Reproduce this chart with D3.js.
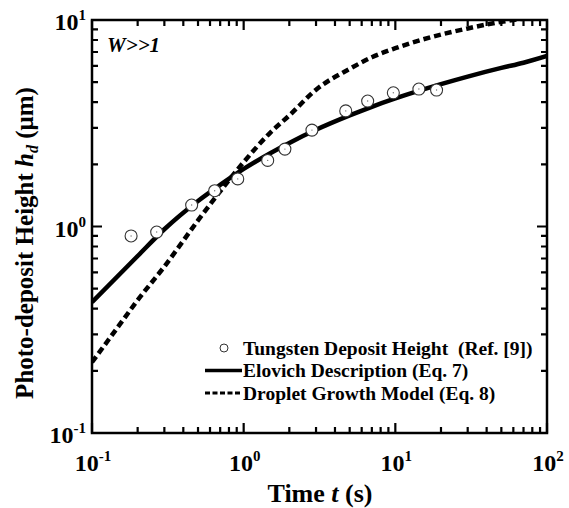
<!DOCTYPE html>
<html>
<head>
<meta charset="utf-8">
<script src="https://cdn.jsdelivr.net/npm/d3@7"></script>
<style>
  body { margin: 0; background: #fff; }
  svg { display: block; font-family: "Liberation Serif", "Times New Roman", serif; font-weight: bold; }
</style>
</head>
<body>
<div id="container"></div>
<script>
// measured tungsten deposit heights (t in s, h in um)
const dataT = [0.181, 0.267, 0.454, 0.644, 0.914, 1.44, 1.87, 2.82, 4.71, 6.57, 9.70, 14.3, 18.7];
const dataH = [0.90, 0.94, 1.27, 1.49, 1.70, 2.09, 2.37, 2.93, 3.63, 4.05, 4.44, 4.63, 4.58];

// Elovich description (Eq. 7)
const elovichT = [0.1, 0.2, 0.3, 0.5, 0.7, 1, 2, 3, 5, 7, 10, 20, 30, 50, 70, 100];
const elovichH = [0.43, 0.72, 0.97, 1.33, 1.59, 1.90, 2.54, 2.94, 3.45, 3.80, 4.17, 4.89, 5.32, 5.86, 6.21, 6.70];

// droplet growth model (Eq. 8)
const dropletT = [0.1, 0.15, 0.2, 0.3, 0.5, 0.7, 1, 1.5, 2, 3, 5, 7, 10, 20, 30, 50, 70, 100];
const dropletH = [0.22, 0.33, 0.44, 0.64, 1.07, 1.48, 2.05, 2.85, 3.45, 4.6, 5.8, 6.6, 7.3, 8.5, 9.1, 9.8, 10.15, 10.4];

const xMajor = [0.1, 1, 10, 100];
const xLabels = ['-1', '0', '1', '2'];
const yMajor = [0.1, 1, 10];
const yLabels = ['-1', '0', '1'];

const legendItems = [
    { kind: 'circle', label: 'Tungsten Deposit Height\u00a0 (Ref. [9])' },
    { kind: 'solid', label: 'Elovich Description (Eq. 7)' },
    { kind: 'dashed', label: 'Droplet Growth Model (Eq. 8)' }
];

const width = 569;
const height = 508;
const margin = { top: 20, right: 22, bottom: 75, left: 92 };

const svg = d3.select('#container').append('svg')
    .attr('width', width)
    .attr('height', height);

const x = d3.scaleLog().domain([0.1, 100]).range([margin.left, width - margin.right]);
const y = d3.scaleLog().domain([0.1, 10]).range([height - margin.bottom, margin.top]);

function minorTicks(decades) {
    const out = [];
    decades.forEach(d => {
        for (let m = 2; m <= 9; m++) out.push(d * m);
    });
    return out;
}
const xMinor = minorTicks([0.1, 1, 10]);
const yMinor = minorTicks([0.1, 1]);

const plotW = width - margin.left - margin.right;
const plotH = height - margin.top - margin.bottom;
const plotLeft = margin.left, plotRight = width - margin.right;
const plotBottom = height - margin.bottom, plotTop = margin.top;

svg.append('clipPath').attr('id', 'plot-clip')
    .append('rect')
    .attr('x', plotLeft).attr('y', plotTop)
    .attr('width', plotW)
    .attr('height', plotH);

// curves
const line = d3.line()
    .x(d => x(d[0]))
    .y(d => y(d[1]))
    .curve(d3.curveMonotoneX);

const plot = svg.append('g').attr('clip-path', 'url(#plot-clip)');

plot.append('path')
    .datum(dropletT.map((t, i) => [t, dropletH[i]]))
    .attr('d', line)
    .attr('fill', 'none')
    .attr('stroke', '#000')
    .attr('stroke-width', 4.5)
    .attr('stroke-dasharray', '7,4');

plot.append('path')
    .datum(elovichT.map((t, i) => [t, elovichH[i]]))
    .attr('d', line)
    .attr('fill', 'none')
    .attr('stroke', '#000')
    .attr('stroke-width', 4.5);

// data points
const pts = plot.selectAll('g.pt')
    .data(dataT.map((t, i) => [t, dataH[i]]))
    .join('g')
    .attr('class', 'pt')
    .attr('transform', d => `translate(${x(d[0])},${y(d[1])})`);
pts.append('circle')
    .attr('r', 6)
    .attr('fill', '#fff')
    .attr('stroke', '#333')
    .attr('stroke-width', 1.1);
pts.append('circle')
    .attr('r', 0.7)
    .attr('fill', '#777');

// ticks point inward on all four sides
const tickPath = d3.path();
function xTicks(values, len) {
    values.forEach(v => {
        tickPath.moveTo(x(v), plotBottom); tickPath.lineTo(x(v), plotBottom - len);
        tickPath.moveTo(x(v), plotTop); tickPath.lineTo(x(v), plotTop + len);
    });
}
function yTicks(values, len) {
    values.forEach(v => {
        tickPath.moveTo(plotLeft, y(v)); tickPath.lineTo(plotLeft + len, y(v));
        tickPath.moveTo(plotRight, y(v)); tickPath.lineTo(plotRight - len, y(v));
    });
}
xTicks(xMinor, 6);
xTicks(xMajor, 10);
yTicks(yMinor, 6);
yTicks(yMajor, 10);

svg.append('path')
    .attr('d', tickPath.toString())
    .attr('fill', 'none')
    .attr('stroke', '#000')
    .attr('stroke-width', 2.2);

svg.append('rect')
    .attr('x', plotLeft).attr('y', plotTop)
    .attr('width', plotW).attr('height', plotH)
    .attr('fill', 'none')
    .attr('stroke', '#000')
    .attr('stroke-width', 2.5);

// tick labels as 10 with superscript exponent
function powerLabel(sel, exp) {
    sel.append('tspan').attr('font-size', 24).text('10');
    sel.append('tspan').attr('font-size', 15).attr('dy', -10).text(exp);
}

xMajor.forEach((v, i) => {
    svg.append('text')
        .attr('x', x(v) + 1)
        .attr('y', 471)
        .attr('text-anchor', 'middle')
        .call(powerLabel, xLabels[i]);
});

yMajor.forEach((v, i) => {
    svg.append('text')
        .attr('x', plotLeft - 6)
        .attr('y', y(v) + 10)
        .attr('text-anchor', 'end')
        .call(powerLabel, yLabels[i]);
});

// axis titles
const xt = svg.append('text')
    .attr('x', 320)
    .attr('y', 502)
    .attr('text-anchor', 'middle')
    .attr('font-size', 26);
xt.append('tspan').text('Time ');
xt.append('tspan').attr('font-style', 'italic').text('t');
xt.append('tspan').text(' (s)');

const yt = svg.append('text')
    .attr('transform', `translate(33,243) rotate(-90)`)
    .attr('text-anchor', 'middle')
    .attr('font-size', 25);
yt.append('tspan').text('Photo-deposit Height ');
yt.append('tspan').attr('font-style', 'italic').text('h');
yt.append('tspan').attr('font-style', 'italic').attr('font-size', 16).attr('dy', 5).text('d');
yt.append('tspan').attr('dy', -5).text(' (\u03bcm)');

svg.append('text')
    .attr('x', 107)
    .attr('y', 52)
    .attr('font-size', 21)
    .attr('font-style', 'italic')
    .text('W>>1');

// legend
const legend = svg.append('g').attr('transform', 'translate(205,348)');
legendItems.forEach((d, i) => {
    const row = legend.append('g').attr('transform', `translate(0,${i * 22.5})`);
    if (d.kind === 'circle') {
        row.append('circle')
            .attr('cx', 19).attr('cy', 0).attr('r', 4)
            .attr('fill', '#fff').attr('stroke', '#333').attr('stroke-width', 1);
    } else {
        row.append('line')
            .attr('x1', 0).attr('x2', 37)
            .attr('y1', 0).attr('y2', 0)
            .attr('stroke', '#000')
            .attr('stroke-width', d.kind === 'solid' ? 3.5 : 3)
            .attr('stroke-dasharray', d.kind === 'dashed' ? '5,2.5' : null);
    }
    row.append('text')
        .attr('x', 38)
        .attr('y', 6.5)
        .attr('font-size', 19.5)
        .text(d.label);
});
</script>
</body>
</html>
